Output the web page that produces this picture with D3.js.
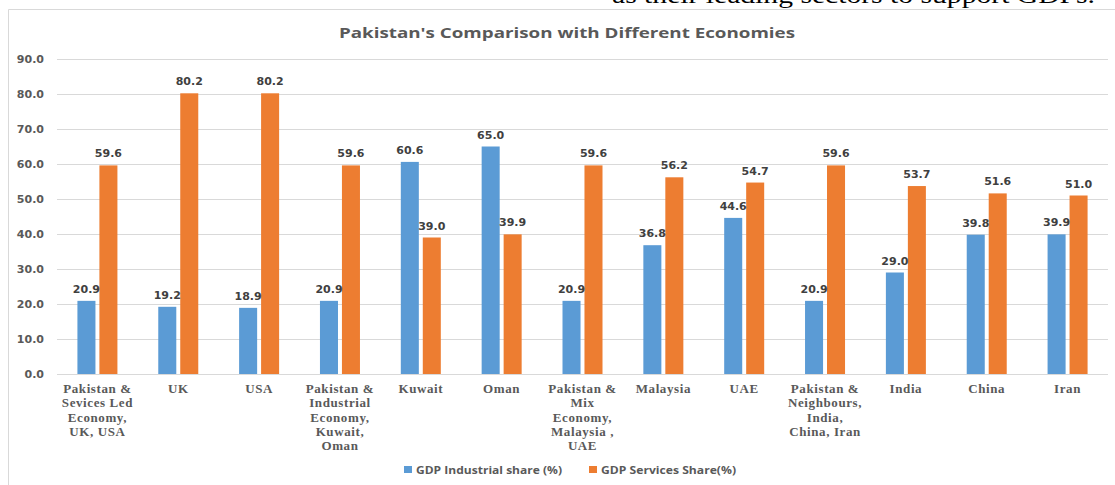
<!DOCTYPE html>
<html>
<head>
<meta charset="utf-8">
<script src="https://cdn.jsdelivr.net/npm/d3@7"></script>
<style>
  body { margin: 0; background: #fff; }
</style>
</head>
<body>
<svg width="1115" height="485"></svg>
<script>
var categories = [
  "Pakistan &|Sevices Led|Economy,|UK, USA",
  "UK",
  "USA",
  "Pakistan &|Industrial|Economy,|Kuwait,|Oman",
  "Kuwait",
  "Oman",
  "Pakistan &|Mix|Economy,|Malaysia ,|UAE",
  "Malaysia",
  "UAE",
  "Pakistan &|Neighbours,|India,|China, Iran",
  "India",
  "China",
  "Iran"
];
var industrialShare = [20.9, 19.2, 18.9, 20.9, 60.6, 65.0, 20.9, 36.8, 44.6, 20.9, 29.0, 39.8, 39.9];
var servicesShare = [59.6, 80.2, 80.2, 59.6, 39.0, 39.9, 59.6, 56.2, 54.7, 59.6, 53.7, 51.6, 51.0];
var seriesNames = ["GDP Industrial share (%)", "GDP Services Share(%)"];
var yTicks = [0, 10, 20, 30, 40, 50, 60, 70, 80, 90];

var svg = d3.select("svg"),
    width = +svg.attr("width"),
    height = +svg.attr("height");

var color = d3.scaleOrdinal().domain(["ind", "srv"]).range(["#5B9BD5", "#ED7D31"]);

// stray caption text from the page above the chart (cut off at the top, as in the source)
svg.append("text")
    .attr("x", 612)
    .attr("y", 3)
    .attr("textLength", 483)
    .attr("lengthAdjust", "spacingAndGlyphs")
    .style("font-family", "Liberation Serif")
    .style("font-size", "24px")
    .style("fill", "#000")
    .text("as their leading sectors to support GDPs.");

// chart frame
svg.append("path")
    .attr("d", "M8.5,485 V9.5 H1115")
    .attr("fill", "none")
    .attr("stroke", "#d9d9d9");

svg.append("text")
    .attr("x", 567)
    .attr("y", 38)
    .attr("text-anchor", "middle")
    .attr("textLength", 456)
    .attr("lengthAdjust", "spacingAndGlyphs")
    .style("font-family", "Open Sans")
    .style("font-weight", "bold")
    .style("font-size", "15px")
    .style("fill", "#595959")
    .text("Pakistan's Comparison with Different Economies");

var x = d3.scaleBand()
    .domain(d3.range(categories.length))
    .range([57, 1108]);

var bw = x.bandwidth();
var x1 = d3.scaleBand()
    .domain(["ind", "srv"])
    .range([bw / 2 - 20, bw / 2 + 20])
    .paddingInner(0.18);

var y = d3.scaleLinear()
    .domain([0, 90])
    .range([374, 59]);

// gridlines
svg.append("g")
    .selectAll("line")
    .data(yTicks)
    .enter().append("line")
    .attr("x1", 57)
    .attr("x2", 1108)
    .attr("y1", function(d) { return Math.round(y(d)) + 0.5; })
    .attr("y2", function(d) { return Math.round(y(d)) + 0.5; })
    .attr("stroke", "#d9d9d9")
    .attr("stroke-width", 1);

// y axis labels
var yAxis = svg.append("g")
    .attr("transform", "translate(57,0)")
    .call(d3.axisLeft(y).tickValues(yTicks).tickFormat(d3.format(".1f")).tickSize(0).tickPadding(13));
yAxis.select(".domain").remove();
yAxis.selectAll("text")
    .style("font-family", "DejaVu Sans")
    .style("font-weight", "bold")
    .style("font-size", "11px")
    .style("fill", "#595959");

// bars
var rows = categories.map(function(c, i) {
  return { i: i, values: [
    { key: "ind", value: industrialShare[i] },
    { key: "srv", value: servicesShare[i] }
  ] };
});

var group = svg.selectAll(".group")
    .data(rows)
    .enter().append("g")
    .attr("class", "group")
    .attr("transform", function(d) { return "translate(" + x(d.i) + ",0)"; });

group.selectAll("rect")
    .data(function(d) { return d.values; })
    .enter().append("rect")
    .attr("x", function(d) { return x1(d.key); })
    .attr("width", x1.bandwidth())
    .attr("y", function(d) { return y(d.value); })
    .attr("height", function(d) { return y(0) - y(d.value); })
    .attr("fill", function(d) { return color(d.key); });

group.selectAll(".lbl")
    .data(function(d) { return d.values; })
    .enter().append("text")
    .attr("class", "lbl")
    .attr("x", function(d) { return x1(d.key) + x1.bandwidth() / 2; })
    .attr("y", function(d) { return y(d.value) - 8; })
    .attr("text-anchor", "middle")
    .style("font-family", "DejaVu Sans")
    .style("font-weight", "bold")
    .style("font-size", "11px")
    .style("fill", "#404040")
    .text(function(d) { return d3.format(".1f")(d.value); });

// x axis labels, multi-line
var xAxis = svg.append("g")
    .attr("transform", "translate(0,374)")
    .call(d3.axisBottom(x).tickSize(0).tickFormat(""));
xAxis.select(".domain").remove();
xAxis.selectAll(".tick").each(function(d) {
  var lines = categories[d].split("|");
  var t = d3.select(this).append("text")
      .attr("text-anchor", "middle")
      .style("font-family", "Liberation Serif")
      .style("font-weight", "bold")
      .style("font-size", "13px")
      .style("letter-spacing", "0.6px")
      .style("fill", "#595959");
  lines.forEach(function(l, k) {
    t.append("tspan").attr("x", 0).attr("y", 19 + k * 14.3).text(l);
  });
});

// legend
var legendX = [404, 589];
var legendW = [146, 135];
var legend = svg.selectAll(".legend")
    .data(seriesNames)
    .enter().append("g")
    .attr("class", "legend")
    .attr("transform", function(d, i) { return "translate(" + legendX[i] + ",466)"; });
legend.append("rect")
    .attr("width", 8)
    .attr("height", 7)
    .attr("fill", function(d, i) { return color.range()[i]; });
legend.append("text")
    .attr("x", 12)
    .attr("y", 8)
    .attr("textLength", function(d, i) { return legendW[i]; })
    .attr("lengthAdjust", "spacingAndGlyphs")
    .style("font-family", "Open Sans")
    .style("font-weight", "bold")
    .style("font-size", "11px")
    .style("fill", "#595959")
    .text(function(d) { return d; });
</script>
</body>
</html>
